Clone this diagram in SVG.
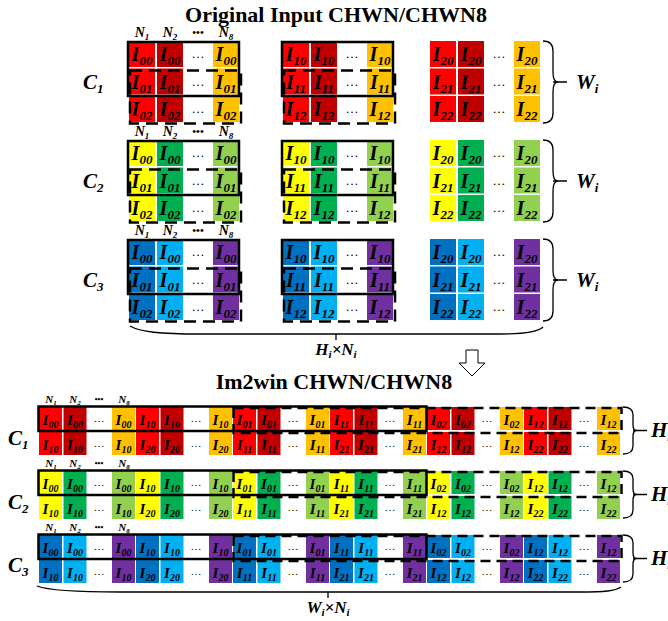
<svg xmlns="http://www.w3.org/2000/svg" width="668" height="621" viewBox="0 0 668 621">
<style>
.c1{fill:#FF0000}.c2{fill:#C00000}.c3{fill:#FFC000}
.g1{fill:#FFFF00}.g2{fill:#00B050}.g3{fill:#92D050}
.b1{fill:#0070C0}.b2{fill:#00B0F0}.b3{fill:#7030A0}
text{font-family:"Liberation Serif","Times New Roman",serif;fill:#000}
.title{font-size:22px;font-weight:bold;text-anchor:middle}
.tl,.ts,.nl,.ns,.dim,.lab{font-weight:bold;font-style:italic;text-anchor:middle}
.tl{font-size:20px}.tl tspan{font-size:13px}
.ts{font-size:15px}.ts tspan{font-size:10px}
.dt{font-size:13px;text-anchor:middle}
.ds{font-size:11px;text-anchor:middle}
.lab{font-size:21px;text-anchor:start}.lab tspan{font-size:13px}
.nl{font-size:14px}.nl tspan{font-size:9px}
.ns{font-size:11px}.ns tspan{font-size:7px}
.bl{font-size:11px;font-weight:bold;text-anchor:middle}
.bs{font-size:8px;font-weight:bold;text-anchor:middle}
.dim{font-size:17px}.dim .s{font-size:11px}
.solid{fill:none;stroke:#000;stroke-width:2.5}
.dash{fill:none;stroke:#000;stroke-width:2.5;stroke-dasharray:12 7}
.dashs{fill:none;stroke:#000;stroke-width:2.5;stroke-dasharray:10 6}
.brace{fill:none;stroke:#000;stroke-width:1.3}
</style>
<defs>
  <!-- three coloured cells of one row, large (CHWN) -->
  <g id="tR"><rect class="c1" width="26" height="26"/><rect class="c2" x="28" width="26" height="26"/><rect class="c3" x="84" width="26" height="26"/></g>
  <g id="tG"><rect class="g1" width="26" height="26"/><rect class="g2" x="28" width="26" height="26"/><rect class="g3" x="84" width="26" height="26"/></g>
  <g id="tB"><rect class="b1" width="26" height="26"/><rect class="b2" x="28" width="26" height="26"/><rect class="b3" x="84" width="26" height="26"/></g>
  <!-- one full im2win row: six groups of three cells -->
  <g id="sR">
    <rect class="c1" x="0" width="23" height="23"/><rect class="c2" x="24.5" width="23" height="23"/><rect class="c3" x="73" width="23" height="23"/>
    <rect class="c1" x="97" width="23" height="23"/><rect class="c2" x="121.5" width="23" height="23"/><rect class="c3" x="170" width="23" height="23"/>
    <rect class="c1" x="194" width="23" height="23"/><rect class="c2" x="218.5" width="23" height="23"/><rect class="c3" x="267" width="23" height="23"/>
    <rect class="c1" x="291" width="23" height="23"/><rect class="c2" x="315.5" width="23" height="23"/><rect class="c3" x="364" width="23" height="23"/>
    <rect class="c1" x="388" width="23" height="23"/><rect class="c2" x="412.5" width="23" height="23"/><rect class="c3" x="461" width="23" height="23"/>
    <rect class="c1" x="485" width="23" height="23"/><rect class="c2" x="509.5" width="23" height="23"/><rect class="c3" x="558" width="23" height="23"/>
  </g>
  <g id="sG">
    <rect class="g1" x="0" width="23" height="23"/><rect class="g2" x="24.5" width="23" height="23"/><rect class="g3" x="73" width="23" height="23"/>
    <rect class="g1" x="97" width="23" height="23"/><rect class="g2" x="121.5" width="23" height="23"/><rect class="g3" x="170" width="23" height="23"/>
    <rect class="g1" x="194" width="23" height="23"/><rect class="g2" x="218.5" width="23" height="23"/><rect class="g3" x="267" width="23" height="23"/>
    <rect class="g1" x="291" width="23" height="23"/><rect class="g2" x="315.5" width="23" height="23"/><rect class="g3" x="364" width="23" height="23"/>
    <rect class="g1" x="388" width="23" height="23"/><rect class="g2" x="412.5" width="23" height="23"/><rect class="g3" x="461" width="23" height="23"/>
    <rect class="g1" x="485" width="23" height="23"/><rect class="g2" x="509.5" width="23" height="23"/><rect class="g3" x="558" width="23" height="23"/>
  </g>
  <g id="sB">
    <rect class="b1" x="0" width="23" height="23"/><rect class="b2" x="24.5" width="23" height="23"/><rect class="b3" x="73" width="23" height="23"/>
    <rect class="b1" x="97" width="23" height="23"/><rect class="b2" x="121.5" width="23" height="23"/><rect class="b3" x="170" width="23" height="23"/>
    <rect class="b1" x="194" width="23" height="23"/><rect class="b2" x="218.5" width="23" height="23"/><rect class="b3" x="267" width="23" height="23"/>
    <rect class="b1" x="291" width="23" height="23"/><rect class="b2" x="315.5" width="23" height="23"/><rect class="b3" x="364" width="23" height="23"/>
    <rect class="b1" x="388" width="23" height="23"/><rect class="b2" x="412.5" width="23" height="23"/><rect class="b3" x="461" width="23" height="23"/>
    <rect class="b1" x="485" width="23" height="23"/><rect class="b2" x="509.5" width="23" height="23"/><rect class="b3" x="558" width="23" height="23"/>
  </g>
</defs>

<rect width="668" height="621" fill="#fff"/>

<text class="title" x="336" y="22">Original Input CHWN/CHWN8</text>
<text class="title" x="334" y="389">Im2win CHWN/CHWN8</text>

<!-- ===== Original layout, channel 1 ===== -->
<g id="orig-c1">
  <text class="lab" x="83" y="89">C<tspan dy="4">1</tspan></text>
  <text class="nl" x="142" y="37">N<tspan dy="3">1</tspan></text>
  <text class="nl" x="170" y="37">N<tspan dy="3">2</tspan></text>
  <text class="bl" x="198" y="36">•••</text>
  <text class="nl" x="226" y="37">N<tspan dy="3">8</tspan></text>
  <g transform="translate(129,41)">
    <use href="#tR"/><use href="#tR" y="27.5"/><use href="#tR" y="55"/>
    <text class="tl" x="13" y="20">I<tspan dy="4">00</tspan></text><text class="tl" x="41" y="20">I<tspan dy="4">00</tspan></text><text class="dt" x="69" y="17">…</text><text class="tl" x="97" y="20">I<tspan dy="4">00</tspan></text>
    <text class="tl" x="13" y="47.5">I<tspan dy="4">01</tspan></text><text class="tl" x="41" y="47.5">I<tspan dy="4">01</tspan></text><text class="dt" x="69" y="44.5">…</text><text class="tl" x="97" y="47.5">I<tspan dy="4">01</tspan></text>
    <text class="tl" x="13" y="75">I<tspan dy="4">02</tspan></text><text class="tl" x="41" y="75">I<tspan dy="4">02</tspan></text><text class="dt" x="69" y="72">…</text><text class="tl" x="97" y="75">I<tspan dy="4">02</tspan></text>
  </g>
  <g transform="translate(283,41)">
    <use href="#tR"/><use href="#tR" y="27.5"/><use href="#tR" y="55"/>
    <text class="tl" x="13" y="20">I<tspan dy="4">10</tspan></text><text class="tl" x="41" y="20">I<tspan dy="4">10</tspan></text><text class="dt" x="69" y="17">…</text><text class="tl" x="97" y="20">I<tspan dy="4">10</tspan></text>
    <text class="tl" x="13" y="47.5">I<tspan dy="4">11</tspan></text><text class="tl" x="41" y="47.5">I<tspan dy="4">11</tspan></text><text class="dt" x="69" y="44.5">…</text><text class="tl" x="97" y="47.5">I<tspan dy="4">11</tspan></text>
    <text class="tl" x="13" y="75">I<tspan dy="4">12</tspan></text><text class="tl" x="41" y="75">I<tspan dy="4">12</tspan></text><text class="dt" x="69" y="72">…</text><text class="tl" x="97" y="75">I<tspan dy="4">12</tspan></text>
  </g>
  <g transform="translate(430,41)">
    <use href="#tR"/><use href="#tR" y="27.5"/><use href="#tR" y="55"/>
    <text class="tl" x="13" y="20">I<tspan dy="4">20</tspan></text><text class="tl" x="41" y="20">I<tspan dy="4">20</tspan></text><text class="dt" x="69" y="17">…</text><text class="tl" x="97" y="20">I<tspan dy="4">20</tspan></text>
    <text class="tl" x="13" y="47.5">I<tspan dy="4">21</tspan></text><text class="tl" x="41" y="47.5">I<tspan dy="4">21</tspan></text><text class="dt" x="69" y="44.5">…</text><text class="tl" x="97" y="47.5">I<tspan dy="4">21</tspan></text>
    <text class="tl" x="13" y="75">I<tspan dy="4">22</tspan></text><text class="tl" x="41" y="75">I<tspan dy="4">22</tspan></text><text class="dt" x="69" y="72">…</text><text class="tl" x="97" y="75">I<tspan dy="4">22</tspan></text>
  </g>
  <rect class="solid" x="128" y="42" width="111" height="54"/>
  <rect class="dash" x="130" y="70.5" width="111" height="53"/>
  <rect class="solid" x="282" y="42" width="111" height="54"/>
  <rect class="dash" x="284" y="70.5" width="111" height="53"/>
  <text class="lab" x="576" y="89">W<tspan dy="4">i</tspan></text>
</g>

<!-- ===== Original layout, channel 2 ===== -->
<g id="orig-c2">
  <text class="lab" x="83" y="188">C<tspan dy="4">2</tspan></text>
  <text class="nl" x="142" y="136">N<tspan dy="3">1</tspan></text>
  <text class="nl" x="170" y="136">N<tspan dy="3">2</tspan></text>
  <text class="bl" x="198" y="135">•••</text>
  <text class="nl" x="226" y="136">N<tspan dy="3">8</tspan></text>
  <g transform="translate(129,140)">
    <use href="#tG"/><use href="#tG" y="27.5"/><use href="#tG" y="55"/>
    <text class="tl" x="13" y="20">I<tspan dy="4">00</tspan></text><text class="tl" x="41" y="20">I<tspan dy="4">00</tspan></text><text class="dt" x="69" y="17">…</text><text class="tl" x="97" y="20">I<tspan dy="4">00</tspan></text>
    <text class="tl" x="13" y="47.5">I<tspan dy="4">01</tspan></text><text class="tl" x="41" y="47.5">I<tspan dy="4">01</tspan></text><text class="dt" x="69" y="44.5">…</text><text class="tl" x="97" y="47.5">I<tspan dy="4">01</tspan></text>
    <text class="tl" x="13" y="75">I<tspan dy="4">02</tspan></text><text class="tl" x="41" y="75">I<tspan dy="4">02</tspan></text><text class="dt" x="69" y="72">…</text><text class="tl" x="97" y="75">I<tspan dy="4">02</tspan></text>
  </g>
  <g transform="translate(283,140)">
    <use href="#tG"/><use href="#tG" y="27.5"/><use href="#tG" y="55"/>
    <text class="tl" x="13" y="20">I<tspan dy="4">10</tspan></text><text class="tl" x="41" y="20">I<tspan dy="4">10</tspan></text><text class="dt" x="69" y="17">…</text><text class="tl" x="97" y="20">I<tspan dy="4">10</tspan></text>
    <text class="tl" x="13" y="47.5">I<tspan dy="4">11</tspan></text><text class="tl" x="41" y="47.5">I<tspan dy="4">11</tspan></text><text class="dt" x="69" y="44.5">…</text><text class="tl" x="97" y="47.5">I<tspan dy="4">11</tspan></text>
    <text class="tl" x="13" y="75">I<tspan dy="4">12</tspan></text><text class="tl" x="41" y="75">I<tspan dy="4">12</tspan></text><text class="dt" x="69" y="72">…</text><text class="tl" x="97" y="75">I<tspan dy="4">12</tspan></text>
  </g>
  <g transform="translate(430,140)">
    <use href="#tG"/><use href="#tG" y="27.5"/><use href="#tG" y="55"/>
    <text class="tl" x="13" y="20">I<tspan dy="4">20</tspan></text><text class="tl" x="41" y="20">I<tspan dy="4">20</tspan></text><text class="dt" x="69" y="17">…</text><text class="tl" x="97" y="20">I<tspan dy="4">20</tspan></text>
    <text class="tl" x="13" y="47.5">I<tspan dy="4">21</tspan></text><text class="tl" x="41" y="47.5">I<tspan dy="4">21</tspan></text><text class="dt" x="69" y="44.5">…</text><text class="tl" x="97" y="47.5">I<tspan dy="4">21</tspan></text>
    <text class="tl" x="13" y="75">I<tspan dy="4">22</tspan></text><text class="tl" x="41" y="75">I<tspan dy="4">22</tspan></text><text class="dt" x="69" y="72">…</text><text class="tl" x="97" y="75">I<tspan dy="4">22</tspan></text>
  </g>
  <rect class="solid" x="128" y="141" width="111" height="54"/>
  <rect class="dash" x="130" y="169.5" width="111" height="53"/>
  <rect class="solid" x="282" y="141" width="111" height="54"/>
  <rect class="dash" x="284" y="169.5" width="111" height="53"/>
  <text class="lab" x="576" y="188">W<tspan dy="4">i</tspan></text>
</g>

<!-- ===== Original layout, channel 3 ===== -->
<g id="orig-c3">
  <text class="lab" x="83" y="287">C<tspan dy="4">3</tspan></text>
  <text class="nl" x="142" y="235">N<tspan dy="3">1</tspan></text>
  <text class="nl" x="170" y="235">N<tspan dy="3">2</tspan></text>
  <text class="bl" x="198" y="234">•••</text>
  <text class="nl" x="226" y="235">N<tspan dy="3">8</tspan></text>
  <g transform="translate(129,239)">
    <use href="#tB"/><use href="#tB" y="27.5"/><use href="#tB" y="55"/>
    <text class="tl" x="13" y="20">I<tspan dy="4">00</tspan></text><text class="tl" x="41" y="20">I<tspan dy="4">00</tspan></text><text class="dt" x="69" y="17">…</text><text class="tl" x="97" y="20">I<tspan dy="4">00</tspan></text>
    <text class="tl" x="13" y="47.5">I<tspan dy="4">01</tspan></text><text class="tl" x="41" y="47.5">I<tspan dy="4">01</tspan></text><text class="dt" x="69" y="44.5">…</text><text class="tl" x="97" y="47.5">I<tspan dy="4">01</tspan></text>
    <text class="tl" x="13" y="75">I<tspan dy="4">02</tspan></text><text class="tl" x="41" y="75">I<tspan dy="4">02</tspan></text><text class="dt" x="69" y="72">…</text><text class="tl" x="97" y="75">I<tspan dy="4">02</tspan></text>
  </g>
  <g transform="translate(283,239)">
    <use href="#tB"/><use href="#tB" y="27.5"/><use href="#tB" y="55"/>
    <text class="tl" x="13" y="20">I<tspan dy="4">10</tspan></text><text class="tl" x="41" y="20">I<tspan dy="4">10</tspan></text><text class="dt" x="69" y="17">…</text><text class="tl" x="97" y="20">I<tspan dy="4">10</tspan></text>
    <text class="tl" x="13" y="47.5">I<tspan dy="4">11</tspan></text><text class="tl" x="41" y="47.5">I<tspan dy="4">11</tspan></text><text class="dt" x="69" y="44.5">…</text><text class="tl" x="97" y="47.5">I<tspan dy="4">11</tspan></text>
    <text class="tl" x="13" y="75">I<tspan dy="4">12</tspan></text><text class="tl" x="41" y="75">I<tspan dy="4">12</tspan></text><text class="dt" x="69" y="72">…</text><text class="tl" x="97" y="75">I<tspan dy="4">12</tspan></text>
  </g>
  <g transform="translate(430,239)">
    <use href="#tB"/><use href="#tB" y="27.5"/><use href="#tB" y="55"/>
    <text class="tl" x="13" y="20">I<tspan dy="4">20</tspan></text><text class="tl" x="41" y="20">I<tspan dy="4">20</tspan></text><text class="dt" x="69" y="17">…</text><text class="tl" x="97" y="20">I<tspan dy="4">20</tspan></text>
    <text class="tl" x="13" y="47.5">I<tspan dy="4">21</tspan></text><text class="tl" x="41" y="47.5">I<tspan dy="4">21</tspan></text><text class="dt" x="69" y="44.5">…</text><text class="tl" x="97" y="47.5">I<tspan dy="4">21</tspan></text>
    <text class="tl" x="13" y="75">I<tspan dy="4">22</tspan></text><text class="tl" x="41" y="75">I<tspan dy="4">22</tspan></text><text class="dt" x="69" y="72">…</text><text class="tl" x="97" y="75">I<tspan dy="4">22</tspan></text>
  </g>
  <rect class="solid" x="128" y="240" width="111" height="54"/>
  <rect class="dash" x="130" y="268.5" width="111" height="53"/>
  <rect class="solid" x="282" y="240" width="111" height="54"/>
  <rect class="dash" x="284" y="268.5" width="111" height="53"/>
  <text class="lab" x="576" y="287">W<tspan dy="4">i</tspan></text>
</g>

<text class="dim" x="336" y="355">H<tspan class="s" dy="3">i</tspan><tspan dy="-3">×N</tspan><tspan class="s" dy="3">i</tspan></text>

<!-- ===== Im2win layout, channel 1 ===== -->
<g id="im2win-c1">
  <text class="lab" x="8" y="445">C<tspan dy="4">1</tspan></text>
  <text class="ns" x="51" y="403">N<tspan dy="2">1</tspan></text>
  <text class="ns" x="75" y="403">N<tspan dy="2">2</tspan></text>
  <text class="bs" x="99" y="402">•••</text>
  <text class="ns" x="124" y="403">N<tspan dy="2">8</tspan></text>
  <g transform="translate(39,407)">
    <use href="#sR"/><use href="#sR" y="25"/>
    <text class="ts" x="11.5" y="17.5">I<tspan dy="3">00</tspan></text><text class="ts" x="36" y="17.5">I<tspan dy="3">00</tspan></text><text class="ds" x="60" y="15">…</text><text class="ts" x="84.5" y="17.5">I<tspan dy="3">00</tspan></text>
    <text class="ts" x="108.5" y="17.5">I<tspan dy="3">10</tspan></text><text class="ts" x="133" y="17.5">I<tspan dy="3">10</tspan></text><text class="ds" x="157" y="15">…</text><text class="ts" x="181.5" y="17.5">I<tspan dy="3">10</tspan></text>
    <text class="ts" x="205.5" y="17.5">I<tspan dy="3">01</tspan></text><text class="ts" x="230" y="17.5">I<tspan dy="3">01</tspan></text><text class="ds" x="254" y="15">…</text><text class="ts" x="278.5" y="17.5">I<tspan dy="3">01</tspan></text>
    <text class="ts" x="302.5" y="17.5">I<tspan dy="3">11</tspan></text><text class="ts" x="327" y="17.5">I<tspan dy="3">11</tspan></text><text class="ds" x="351" y="15">…</text><text class="ts" x="375.5" y="17.5">I<tspan dy="3">11</tspan></text>
    <text class="ts" x="399.5" y="17.5">I<tspan dy="3">02</tspan></text><text class="ts" x="424" y="17.5">I<tspan dy="3">02</tspan></text><text class="ds" x="448" y="15">…</text><text class="ts" x="472.5" y="17.5">I<tspan dy="3">02</tspan></text>
    <text class="ts" x="496.5" y="17.5">I<tspan dy="3">12</tspan></text><text class="ts" x="521" y="17.5">I<tspan dy="3">12</tspan></text><text class="ds" x="545" y="15">…</text><text class="ts" x="569.5" y="17.5">I<tspan dy="3">12</tspan></text>
    <text class="ts" x="11.5" y="42.5">I<tspan dy="3">10</tspan></text><text class="ts" x="36" y="42.5">I<tspan dy="3">10</tspan></text><text class="ds" x="60" y="40">…</text><text class="ts" x="84.5" y="42.5">I<tspan dy="3">10</tspan></text>
    <text class="ts" x="108.5" y="42.5">I<tspan dy="3">20</tspan></text><text class="ts" x="133" y="42.5">I<tspan dy="3">20</tspan></text><text class="ds" x="157" y="40">…</text><text class="ts" x="181.5" y="42.5">I<tspan dy="3">20</tspan></text>
    <text class="ts" x="205.5" y="42.5">I<tspan dy="3">11</tspan></text><text class="ts" x="230" y="42.5">I<tspan dy="3">11</tspan></text><text class="ds" x="254" y="40">…</text><text class="ts" x="278.5" y="42.5">I<tspan dy="3">11</tspan></text>
    <text class="ts" x="302.5" y="42.5">I<tspan dy="3">21</tspan></text><text class="ts" x="327" y="42.5">I<tspan dy="3">21</tspan></text><text class="ds" x="351" y="40">…</text><text class="ts" x="375.5" y="42.5">I<tspan dy="3">21</tspan></text>
    <text class="ts" x="399.5" y="42.5">I<tspan dy="3">12</tspan></text><text class="ts" x="424" y="42.5">I<tspan dy="3">12</tspan></text><text class="ds" x="448" y="40">…</text><text class="ts" x="472.5" y="42.5">I<tspan dy="3">12</tspan></text>
    <text class="ts" x="496.5" y="42.5">I<tspan dy="3">22</tspan></text><text class="ts" x="521" y="42.5">I<tspan dy="3">22</tspan></text><text class="ds" x="545" y="40">…</text><text class="ts" x="569.5" y="42.5">I<tspan dy="3">22</tspan></text>
  </g>
  <rect class="solid" x="38.5" y="406.5" width="388" height="24.5"/>
  <rect class="dashs" x="233.5" y="408" width="388" height="25"/>
  <text class="lab" x="651" y="437">H<tspan dy="4">i</tspan></text>
</g>

<!-- ===== Im2win layout, channel 2 ===== -->
<g id="im2win-c2">
  <text class="lab" x="8" y="509">C<tspan dy="4">2</tspan></text>
  <text class="ns" x="51" y="467">N<tspan dy="2">1</tspan></text>
  <text class="ns" x="75" y="467">N<tspan dy="2">2</tspan></text>
  <text class="bs" x="99" y="466">•••</text>
  <text class="ns" x="124" y="467">N<tspan dy="2">8</tspan></text>
  <g transform="translate(39,471)">
    <use href="#sG"/><use href="#sG" y="25"/>
    <text class="ts" x="11.5" y="17.5">I<tspan dy="3">00</tspan></text><text class="ts" x="36" y="17.5">I<tspan dy="3">00</tspan></text><text class="ds" x="60" y="15">…</text><text class="ts" x="84.5" y="17.5">I<tspan dy="3">00</tspan></text>
    <text class="ts" x="108.5" y="17.5">I<tspan dy="3">10</tspan></text><text class="ts" x="133" y="17.5">I<tspan dy="3">10</tspan></text><text class="ds" x="157" y="15">…</text><text class="ts" x="181.5" y="17.5">I<tspan dy="3">10</tspan></text>
    <text class="ts" x="205.5" y="17.5">I<tspan dy="3">01</tspan></text><text class="ts" x="230" y="17.5">I<tspan dy="3">01</tspan></text><text class="ds" x="254" y="15">…</text><text class="ts" x="278.5" y="17.5">I<tspan dy="3">01</tspan></text>
    <text class="ts" x="302.5" y="17.5">I<tspan dy="3">11</tspan></text><text class="ts" x="327" y="17.5">I<tspan dy="3">11</tspan></text><text class="ds" x="351" y="15">…</text><text class="ts" x="375.5" y="17.5">I<tspan dy="3">11</tspan></text>
    <text class="ts" x="399.5" y="17.5">I<tspan dy="3">02</tspan></text><text class="ts" x="424" y="17.5">I<tspan dy="3">02</tspan></text><text class="ds" x="448" y="15">…</text><text class="ts" x="472.5" y="17.5">I<tspan dy="3">02</tspan></text>
    <text class="ts" x="496.5" y="17.5">I<tspan dy="3">12</tspan></text><text class="ts" x="521" y="17.5">I<tspan dy="3">12</tspan></text><text class="ds" x="545" y="15">…</text><text class="ts" x="569.5" y="17.5">I<tspan dy="3">12</tspan></text>
    <text class="ts" x="11.5" y="42.5">I<tspan dy="3">10</tspan></text><text class="ts" x="36" y="42.5">I<tspan dy="3">10</tspan></text><text class="ds" x="60" y="40">…</text><text class="ts" x="84.5" y="42.5">I<tspan dy="3">10</tspan></text>
    <text class="ts" x="108.5" y="42.5">I<tspan dy="3">20</tspan></text><text class="ts" x="133" y="42.5">I<tspan dy="3">20</tspan></text><text class="ds" x="157" y="40">…</text><text class="ts" x="181.5" y="42.5">I<tspan dy="3">20</tspan></text>
    <text class="ts" x="205.5" y="42.5">I<tspan dy="3">11</tspan></text><text class="ts" x="230" y="42.5">I<tspan dy="3">11</tspan></text><text class="ds" x="254" y="40">…</text><text class="ts" x="278.5" y="42.5">I<tspan dy="3">11</tspan></text>
    <text class="ts" x="302.5" y="42.5">I<tspan dy="3">21</tspan></text><text class="ts" x="327" y="42.5">I<tspan dy="3">21</tspan></text><text class="ds" x="351" y="40">…</text><text class="ts" x="375.5" y="42.5">I<tspan dy="3">21</tspan></text>
    <text class="ts" x="399.5" y="42.5">I<tspan dy="3">12</tspan></text><text class="ts" x="424" y="42.5">I<tspan dy="3">12</tspan></text><text class="ds" x="448" y="40">…</text><text class="ts" x="472.5" y="42.5">I<tspan dy="3">12</tspan></text>
    <text class="ts" x="496.5" y="42.5">I<tspan dy="3">22</tspan></text><text class="ts" x="521" y="42.5">I<tspan dy="3">22</tspan></text><text class="ds" x="545" y="40">…</text><text class="ts" x="569.5" y="42.5">I<tspan dy="3">22</tspan></text>
  </g>
  <rect class="solid" x="38.5" y="470.5" width="388" height="24.5"/>
  <rect class="dashs" x="233.5" y="472" width="388" height="25"/>
  <text class="lab" x="651" y="501">H<tspan dy="4">i</tspan></text>
</g>

<!-- ===== Im2win layout, channel 3 ===== -->
<g id="im2win-c3">
  <text class="lab" x="8" y="572">C<tspan dy="4">3</tspan></text>
  <text class="ns" x="51" y="531">N<tspan dy="2">1</tspan></text>
  <text class="ns" x="75" y="531">N<tspan dy="2">2</tspan></text>
  <text class="bs" x="99" y="530">•••</text>
  <text class="ns" x="124" y="531">N<tspan dy="2">8</tspan></text>
  <g transform="translate(39,535)">
    <use href="#sB"/><use href="#sB" y="25"/>
    <text class="ts" x="11.5" y="17.5">I<tspan dy="3">00</tspan></text><text class="ts" x="36" y="17.5">I<tspan dy="3">00</tspan></text><text class="ds" x="60" y="15">…</text><text class="ts" x="84.5" y="17.5">I<tspan dy="3">00</tspan></text>
    <text class="ts" x="108.5" y="17.5">I<tspan dy="3">10</tspan></text><text class="ts" x="133" y="17.5">I<tspan dy="3">10</tspan></text><text class="ds" x="157" y="15">…</text><text class="ts" x="181.5" y="17.5">I<tspan dy="3">10</tspan></text>
    <text class="ts" x="205.5" y="17.5">I<tspan dy="3">01</tspan></text><text class="ts" x="230" y="17.5">I<tspan dy="3">01</tspan></text><text class="ds" x="254" y="15">…</text><text class="ts" x="278.5" y="17.5">I<tspan dy="3">01</tspan></text>
    <text class="ts" x="302.5" y="17.5">I<tspan dy="3">11</tspan></text><text class="ts" x="327" y="17.5">I<tspan dy="3">11</tspan></text><text class="ds" x="351" y="15">…</text><text class="ts" x="375.5" y="17.5">I<tspan dy="3">11</tspan></text>
    <text class="ts" x="399.5" y="17.5">I<tspan dy="3">02</tspan></text><text class="ts" x="424" y="17.5">I<tspan dy="3">02</tspan></text><text class="ds" x="448" y="15">…</text><text class="ts" x="472.5" y="17.5">I<tspan dy="3">02</tspan></text>
    <text class="ts" x="496.5" y="17.5">I<tspan dy="3">12</tspan></text><text class="ts" x="521" y="17.5">I<tspan dy="3">12</tspan></text><text class="ds" x="545" y="15">…</text><text class="ts" x="569.5" y="17.5">I<tspan dy="3">12</tspan></text>
    <text class="ts" x="11.5" y="42.5">I<tspan dy="3">10</tspan></text><text class="ts" x="36" y="42.5">I<tspan dy="3">10</tspan></text><text class="ds" x="60" y="40">…</text><text class="ts" x="84.5" y="42.5">I<tspan dy="3">10</tspan></text>
    <text class="ts" x="108.5" y="42.5">I<tspan dy="3">20</tspan></text><text class="ts" x="133" y="42.5">I<tspan dy="3">20</tspan></text><text class="ds" x="157" y="40">…</text><text class="ts" x="181.5" y="42.5">I<tspan dy="3">20</tspan></text>
    <text class="ts" x="205.5" y="42.5">I<tspan dy="3">11</tspan></text><text class="ts" x="230" y="42.5">I<tspan dy="3">11</tspan></text><text class="ds" x="254" y="40">…</text><text class="ts" x="278.5" y="42.5">I<tspan dy="3">11</tspan></text>
    <text class="ts" x="302.5" y="42.5">I<tspan dy="3">21</tspan></text><text class="ts" x="327" y="42.5">I<tspan dy="3">21</tspan></text><text class="ds" x="351" y="40">…</text><text class="ts" x="375.5" y="42.5">I<tspan dy="3">21</tspan></text>
    <text class="ts" x="399.5" y="42.5">I<tspan dy="3">12</tspan></text><text class="ts" x="424" y="42.5">I<tspan dy="3">12</tspan></text><text class="ds" x="448" y="40">…</text><text class="ts" x="472.5" y="42.5">I<tspan dy="3">12</tspan></text>
    <text class="ts" x="496.5" y="42.5">I<tspan dy="3">22</tspan></text><text class="ts" x="521" y="42.5">I<tspan dy="3">22</tspan></text><text class="ds" x="545" y="40">…</text><text class="ts" x="569.5" y="42.5">I<tspan dy="3">22</tspan></text>
  </g>
  <rect class="solid" x="38.5" y="534.5" width="388" height="24.5"/>
  <rect class="dashs" x="233.5" y="536" width="388" height="25"/>
  <text class="lab" x="651" y="565">H<tspan dy="4">i</tspan></text>
</g>

<text class="dim" x="328" y="613">W<tspan class="s" dy="3">i</tspan><tspan dy="-3">×N</tspan><tspan class="s" dy="3">i</tspan></text>

<!-- braces and the transform arrow -->
<g id="connectors">
  <path class="brace" d="M543,41 Q553,41 553,51 V72 Q553,82 558,82 Q553,82 553,92 V113 Q553,123 543,123 M553,82 H567"/>
  <path class="brace" d="M543,140 Q553,140 553,150 V171 Q553,181 558,181 Q553,181 553,191 V212 Q553,222 543,222 M553,181 H567"/>
  <path class="brace" d="M543,239 Q553,239 553,249 V270 Q553,280 558,280 Q553,280 553,290 V311 Q553,321 543,321 M553,280 H567"/>
  <path class="brace" d="M130,326 C140,332 160,334 200,334 H500 C525,334 538,332 543,327 M336,334 V340"/>
  <polygon points="466,350 478,350 478,363 485,363 472,376 459,363 466,363" fill="#fff" stroke="#000" stroke-width="1"/>
  <path class="brace" d="M623,407 Q633,407 633,415 V425 Q633,430.5 637,430.5 Q633,430.5 633,436 V446 Q633,454 623,454 M633,430.5 H647"/>
  <path class="brace" d="M623,471 Q633,471 633,479 V489 Q633,494.5 637,494.5 Q633,494.5 633,500 V510 Q633,518 623,518 M633,494.5 H647"/>
  <path class="brace" d="M623,535 Q633,535 633,543 V553 Q633,558.5 637,558.5 Q633,558.5 633,564 V574 Q633,582 623,582 M633,558.5 H647"/>
  <path class="brace" d="M37,586 C50,591 80,592 120,592 H580 C605,592 615,591 621,587 M328,592 V598"/>
</g>
</svg>
